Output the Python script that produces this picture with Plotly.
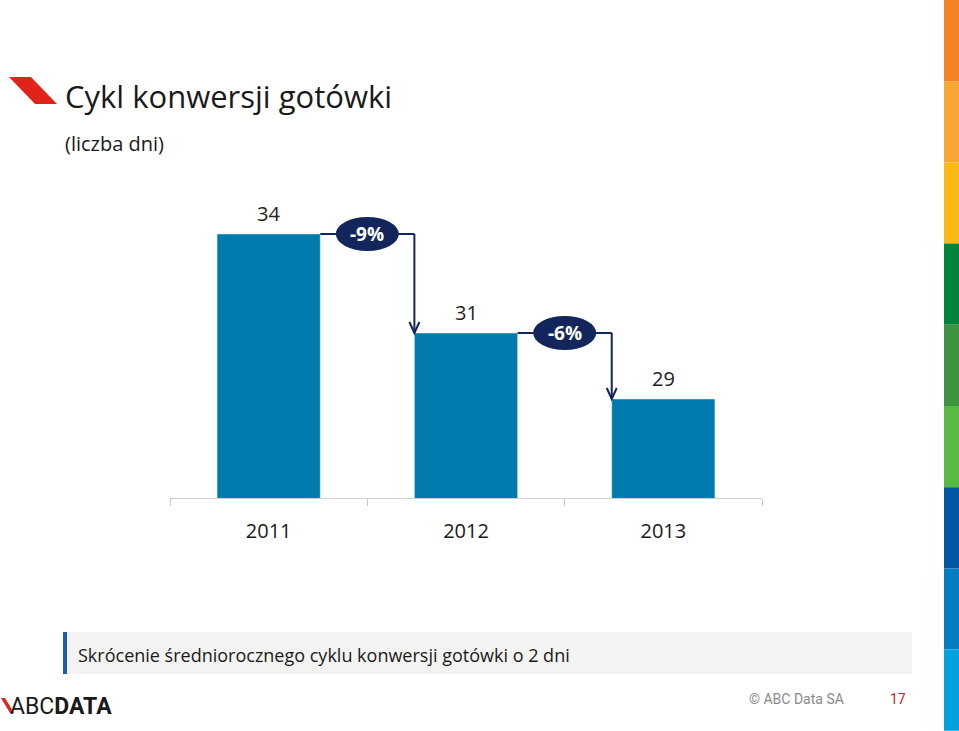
import plotly.graph_objects as go

years = ["2011", "2012", "2013"]
days = [34, 31, 29]
changes = ["-9%", "-6%"]
title = "Cykl konwersji gotówki"
subtitle = "(liczba dni)"
note = "Skrócenie średniorocznego cyklu konwersji gotówki o 2 dni"
footer = "© ABC Data SA"
page_no = "17"
stripe_colors = ["#F58220", "#F9A533", "#FDB913", "#00843D", "#3F9441", "#58B947",
                 "#0057A5", "#007DC3", "#00A3E0"]

BAR = "#007BAE"
NAVY = "#13265C"
FONT = "Open Sans"
bar_w = 0.523

W, H = 959, 731
L, R, T, B = 170, 762, 100, 498

fig = go.Figure()
fig.add_trace(go.Bar(x=list(range(len(years))), y=days, marker_color=BAR,
                     width=bar_w, hoverinfo="skip"))

shapes = []
annotations = []

# data labels
for i, v in enumerate(days):
    annotations.append(dict(x=i, y=v, xref="x", yref="y", text=str(v), showarrow=False,
                            yshift=21, font=dict(size=20, color="#222", family=FONT)))

# connectors
for i, lab in enumerate(changes):
    x0 = i + bar_w / 2
    x1 = i + 1 - bar_w / 2
    v0, v1 = days[i], days[i + 1]
    shapes.append(dict(type="line", xref="x", yref="y", x0=x0, x1=x1, y0=v0, y1=v0,
                       line=dict(color=NAVY, width=2)))
    shapes.append(dict(type="line", xref="x", yref="y", x0=x1, x1=x1, y0=v0, y1=v1,
                       line=dict(color=NAVY, width=2)))
    shapes.append(dict(type="path", xref="x", yref="y", xsizemode="pixel", ysizemode="pixel",
                       xanchor=x1, yanchor=v1, path="M -5,11 L 0,0 L 5,11",
                       line=dict(color=NAVY, width=2)))
    xm = (x0 + x1) / 2
    shapes.append(dict(type="circle", xref="x", yref="y", xsizemode="pixel", ysizemode="pixel",
                       xanchor=xm, yanchor=v0, x0=-31.5, x1=31.5, y0=-17, y1=17,
                       fillcolor=NAVY, line=dict(width=0)))
    annotations.append(dict(x=xm, y=v0, xref="x", yref="y", text="<b>" + lab + "</b>",
                            showarrow=False, font=dict(size=19, color="white", family=FONT)))


def px(x):
    return (x - L) / (R - L)


def py(y):
    return (B - y) / (B - T)


# title & subtitle
annotations.append(dict(x=px(63), y=py(96), xref="paper", yref="paper", xanchor="left",
                        yanchor="middle", text=title, showarrow=False,
                        font=dict(size=31, color="#1a1a1a", family=FONT)))
annotations.append(dict(x=px(63), y=py(143), xref="paper", yref="paper", xanchor="left",
                        yanchor="middle", text=subtitle, showarrow=False,
                        font=dict(size=20, color="#1a1a1a", family=FONT)))
# red logo mark
shapes.append(dict(type="path", xref="paper", yref="paper",
                   path=f"M {px(9)},{py(77)} L {px(31)},{py(77)} L {px(57)},{py(104)} L {px(35)},{py(104)} Z",
                   fillcolor="#E2231A", line=dict(width=0)))

# right stripe
seg = 81.2
for k, c in enumerate(stripe_colors):
    shapes.append(dict(type="rect", xref="paper", yref="paper", x0=px(944), x1=px(959),
                       y0=py(seg * (k + 1)), y1=py(seg * k), fillcolor=c, line=dict(width=0)))

# note box
shapes.append(dict(type="rect", xref="paper", yref="paper", x0=px(63), x1=px(912),
                   y0=py(674), y1=py(632), fillcolor="#F3F3F1", line=dict(width=0), layer="below"))
shapes.append(dict(type="rect", xref="paper", yref="paper", x0=px(63), x1=px(67),
                   y0=py(674), y1=py(632), fillcolor="#1F5CA6", line=dict(width=0)))
annotations.append(dict(x=px(76), y=py(655), xref="paper", yref="paper", xanchor="left",
                        yanchor="middle", text=note, showarrow=False,
                        font=dict(size=18, color="#1a1a1a", family=FONT)))

# footer
annotations.append(dict(x=px(747), y=py(699), xref="paper", yref="paper", xanchor="left",
                        yanchor="middle", text=footer, showarrow=False,
                        font=dict(size=14, color="#8a8a8a", family="Roboto")))
annotations.append(dict(x=px(888), y=py(699), xref="paper", yref="paper", xanchor="left",
                        yanchor="middle", text=page_no, showarrow=False,
                        font=dict(size=14, color="#C0262D", family="Roboto")))
# ABCDATA logo
shapes.append(dict(type="path", xref="paper", yref="paper",
                   path=f"M {px(1)},{py(698)} L {px(5)},{py(698)} L {px(14)},{py(713)} L {px(10)},{py(713)} Z",
                   fillcolor="#E2231A", line=dict(width=0)))
annotations.append(dict(x=px(8), y=py(706), xref="paper", yref="paper", xanchor="left",
                        yanchor="middle", text="ABC<b>DATA</b>", showarrow=False,
                        font=dict(size=23, color="#1a1a1a", family="Roboto")))

boundaries = [k - 0.5 for k in range(len(years) + 1)]

fig.update_layout(
    width=W, height=H,
    margin=dict(l=L, r=W - R, t=T, b=H - B),
    paper_bgcolor="white", plot_bgcolor="white",
    showlegend=False,
    shapes=shapes, annotations=annotations,
    xaxis=dict(tickmode="array", tickvals=list(range(len(years))), ticktext=years,
               range=[-0.5, len(years) - 0.5], showline=True, linecolor="#D0D0D0",
               linewidth=1, ticks="",
               minor=dict(tickmode="array", tickvals=boundaries, ticks="outside",
                          ticklen=7, tickcolor="#C8C8C8", tickwidth=1, showgrid=False),
               showgrid=False, zeroline=False, ticklabelstandoff=15,
               tickfont=dict(size=20, color="#1a1a1a", family=FONT)),
    yaxis=dict(range=[26, 26 + (B - T) / 33], visible=False, showgrid=False, zeroline=False),
)

fig.write_html("out.html")
